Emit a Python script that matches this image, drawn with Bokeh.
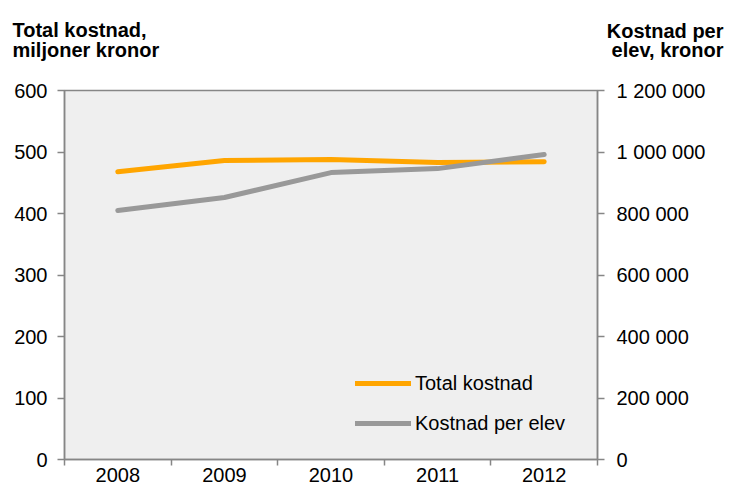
from bokeh.plotting import figure
from bokeh.models import (LinearAxis, Range1d, FixedTicker, Label, Legend, LegendItem)
from bokeh.embed import file_html
from bokeh.resources import INLINE

years = ["2008", "2009", "2010", "2011", "2012"]
total_kostnad = [468, 486, 488, 483, 484]
kostnad_per_elev = [810000, 852000, 933000, 946000, 992000]
left_ticks = [0, 100, 200, 300, 400, 500, 600]
right_ticks = [0, 200000, 400000, 600000, 800000, 1000000, 1200000]
right_labels = ["0", "200 000", "400 000", "600 000", "800 000", "1 000 000", "1 200 000"]
left_title = ["Total kostnad,", "miljoner kronor"]
right_title = ["Kostnad per", "elev, kronor"]

FONT = "Liberation Sans"
FS = "20px"
GRID = "#868686"
W, H = 729, 494
x = [i + 0.5 for i in range(len(years))]

p = figure(width=W, height=H, output_backend="svg", toolbar_location=None,
           x_range=Range1d(0, len(years)), y_range=Range1d(0, 600),
           min_border_left=64, min_border_right=132, min_border_top=90, min_border_bottom=35,
           x_axis_type=None, y_axis_type=None)
p.extra_y_ranges = {"right": Range1d(0, 1200000)}
p.background_fill_color = "#EFEFEF"
p.border_fill_color = "white"
p.outline_line_color = GRID
p.outline_line_width = 1.5

# x axis
xax = LinearAxis(ticker=FixedTicker(ticks=x, minor_ticks=list(range(len(years) + 1))))
xax.major_label_overrides = {xi: y for xi, y in zip(x, years)}
xax.major_tick_out = 0
xax.major_tick_in = 0
xax.minor_tick_out = 6
xax.minor_tick_in = 0
xax.minor_tick_line_color = GRID
xax.minor_tick_line_width = 1.5
xax.axis_line_color = GRID
xax.axis_line_width = 1.5
xax.major_label_text_font = FONT
xax.major_label_text_font_size = FS
xax.major_label_text_color = "black"
xax.major_label_standoff = 2
p.add_layout(xax, "below")

# left y axis
lax = LinearAxis(ticker=FixedTicker(ticks=left_ticks, minor_ticks=[]))
lax.major_tick_out = 7
lax.major_tick_in = 0
lax.major_tick_line_color = GRID
lax.major_tick_line_width = 1.5
lax.axis_line_color = GRID
lax.axis_line_width = 1.5
lax.major_label_text_font = FONT
lax.major_label_text_font_size = FS
lax.major_label_text_color = "black"
lax.major_label_standoff = 10
p.add_layout(lax, "left")

# right y axis
rax = LinearAxis(y_range_name="right", ticker=FixedTicker(ticks=right_ticks, minor_ticks=[]))
rax.major_label_overrides = {t: l for t, l in zip(right_ticks, right_labels)}
rax.major_tick_out = 7
rax.major_tick_in = 0
rax.major_tick_line_color = GRID
rax.major_tick_line_width = 1.5
rax.axis_line_color = GRID
rax.axis_line_width = 1.5
rax.major_label_text_font = FONT
rax.major_label_text_font_size = FS
rax.major_label_text_color = "black"
rax.major_label_standoff = 12
p.add_layout(rax, "right")

p.ygrid.ticker = FixedTicker(ticks=left_ticks)
p.ygrid.grid_line_color = GRID
p.ygrid.grid_line_width = 1.5
p.xgrid.grid_line_color = None

r1 = p.line(x, total_kostnad, line_color="#FFA500", line_width=5, line_cap="round")
r2 = p.line(x, kostnad_per_elev, y_range_name="right", line_color="#999999", line_width=5,
            line_cap="round")

legend = Legend(items=[LegendItem(label="Total kostnad", renderers=[r1]),
                       LegendItem(label="Kostnad per elev", renderers=[r2])],
                location=(291, 24), orientation="vertical")
legend.background_fill_alpha = 0
legend.border_line_color = None
legend.padding = 0
legend.margin = 0
legend.spacing = 16
legend.glyph_width = 56
legend.glyph_height = 24
legend.label_height = 24
legend.label_standoff = 4
legend.label_text_font = FONT
legend.label_text_font_size = FS
legend.label_text_color = "black"
p.add_layout(legend, "center")

# Each label added to the "above" side gets its own stacked slot in that panel;
# the y values below compensate for that stacking.
for txt, sy in zip(left_title, [61, 19]):
    p.add_layout(Label(x=-52, y=sy, x_units="screen", y_units="screen", text=txt,
                       text_font=FONT, text_font_size=FS, text_font_style="bold",
                       text_align="left", text_baseline="alphabetic", text_color="black"),
                 "above")
for txt, sy in zip(right_title, [16, -25]):
    p.add_layout(Label(x=659, y=sy, x_units="screen", y_units="screen", text=txt,
                       text_font=FONT, text_font_size=FS, text_font_style="bold",
                       text_align="right", text_baseline="alphabetic", text_color="black"),
                 "above")

open("out.html", "w").write(file_html(p, INLINE))
